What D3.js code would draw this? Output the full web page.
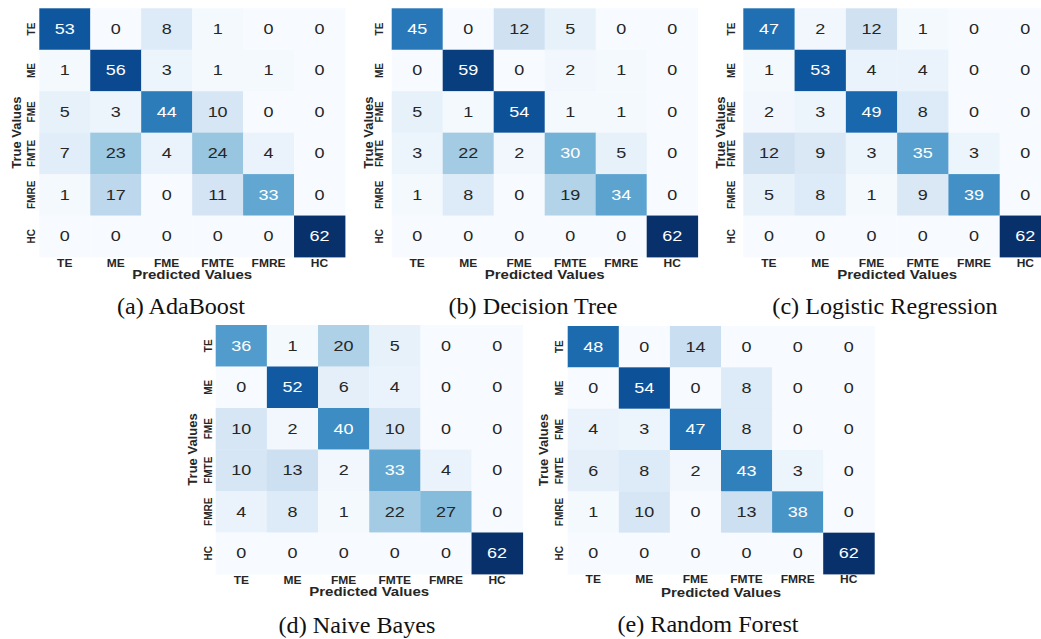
<!DOCTYPE html>
<html>
<head>
<meta charset="utf-8">
<script src="https://cdn.jsdelivr.net/npm/d3@7"></script>
<style>
  body { margin: 0; background: #fff; }
  svg { display: block; }
</style>
</head>
<body>
<svg id="chart" width="1041" height="639"></svg>
<script>
// class labels (rows = true, columns = predicted)
const categories = ["TE", "ME", "FME", "FMTE", "FMRE", "HC"];

// confusion matrices
const adaBoost = [
    [53, 0, 8, 1, 0, 0],
    [1, 56, 3, 1, 1, 0],
    [5, 3, 44, 10, 0, 0],
    [7, 23, 4, 24, 4, 0],
    [1, 17, 0, 11, 33, 0],
    [0, 0, 0, 0, 0, 62]
];
const decisionTree = [
    [45, 0, 12, 5, 0, 0],
    [0, 59, 0, 2, 1, 0],
    [5, 1, 54, 1, 1, 0],
    [3, 22, 2, 30, 5, 0],
    [1, 8, 0, 19, 34, 0],
    [0, 0, 0, 0, 0, 62]
];
const logisticRegression = [
    [47, 2, 12, 1, 0, 0],
    [1, 53, 4, 4, 0, 0],
    [2, 3, 49, 8, 0, 0],
    [12, 9, 3, 35, 3, 0],
    [5, 8, 1, 9, 39, 0],
    [0, 0, 0, 0, 0, 62]
];
const naiveBayes = [
    [36, 1, 20, 5, 0, 0],
    [0, 52, 6, 4, 0, 0],
    [10, 2, 40, 10, 0, 0],
    [10, 13, 2, 33, 4, 0],
    [4, 8, 1, 22, 27, 0],
    [0, 0, 0, 0, 0, 62]
];
const randomForest = [
    [48, 0, 14, 0, 0, 0],
    [0, 54, 0, 8, 0, 0],
    [4, 3, 47, 8, 0, 0],
    [6, 8, 2, 43, 3, 0],
    [1, 10, 0, 13, 38, 0],
    [0, 0, 0, 0, 0, 62]
];
const captions = ["(a) AdaBoost", "(b) Decision Tree", "(c) Logistic Regression", "(d) Naive Bayes", "(e) Random Forest"];
const matrices = [adaBoost, decisionTree, logisticRegression, naiveBayes, randomForest];

// where each panel sits on the page
const layout = [
    {x0: 39.3, y0: 8.3, w: 305.7, h: 248.7, yLabelX: 20.5, yTickX: 35, xTickY: 266.5, xLabelY: 279.3, capX: 181, capY: 314},
    {x0: 391.7, y0: 8.3, w: 306, h: 248.7, yLabelX: 373, yTickX: 383, xTickY: 266.5, xLabelY: 279.3, capX: 533, capY: 314},
    {x0: 743.3, y0: 8.3, w: 307.7, h: 248.7, yLabelX: 725, yTickX: 734.5, xTickY: 266.5, xLabelY: 279.3, capX: 885, capY: 314},
    {x0: 215.7, y0: 325, w: 307, h: 249, yLabelX: 196.5, yTickX: 212, xTickY: 583.5, xLabelY: 596, capX: 357, capY: 632.5},
    {x0: 567.7, y0: 326, w: 306.6, h: 248, yLabelX: 548, yTickX: 563, xTickY: 583.3, xLabelY: 596.5, capX: 708, capY: 632}
];

const stretch = 1.2; // the figure images are a bit wider than tall
const sans = "'Liberation Sans', Arial, Helvetica, sans-serif";

const svg = d3.select("#chart");
svg.append("rect").attr("width", 1041).attr("height", 639).attr("fill", "#fff");

// seaborn picks dark or white annotation text from the cell luminance
function luminance(c) {
    let rgb = d3.rgb(c);
    let lin = [rgb.r, rgb.g, rgb.b].map(function (v) {
        v = v / 255;
        return v <= 0.03928 ? v / 12.92 : Math.pow((v + 0.055) / 1.055, 2.4);
    });
    return 0.2126 * lin[0] + 0.7152 * lin[1] + 0.0722 * lin[2];
}

matrices.forEach(function (m, k) {
    let L = layout[k];
    let flat = [];
    m.forEach(function (row, i) {
        row.forEach(function (v, j) {
            flat.push({row: categories[i], col: categories[j], value: v});
        });
    });

    let x = d3.scaleBand().domain(categories).range([L.x0, L.x0 + L.w]);
    let y = d3.scaleBand().domain(categories).range([L.y0, L.y0 + L.h]);
    let color = d3.scaleSequential(d3.interpolateBlues)
        .domain([d3.min(flat, d => d.value), d3.max(flat, d => d.value)]);

    let g = svg.append("g").attr("class", "panel");

    g.selectAll("rect.cell")
        .data(flat)
        .enter().append("rect")
        .attr("class", "cell")
        .attr("x", d => x(d.col))
        .attr("y", d => y(d.row))
        .attr("width", x.bandwidth() + 0.4)
        .attr("height", y.bandwidth() + 0.4)
        .attr("fill", d => color(d.value));

    g.selectAll("text.val")
        .data(flat)
        .enter().append("text")
        .attr("class", "val")
        .attr("transform", d => `translate(${x(d.col) + x.bandwidth() / 2},${y(d.row) + y.bandwidth() / 2}) scale(${stretch},1)`)
        .attr("text-anchor", "middle")
        .attr("dominant-baseline", "central")
        .style("font-family", sans)
        .style("font-size", "15px")
        .attr("fill", d => luminance(color(d.value)) > 0.408 ? "#262626" : "#fff")
        .text(d => d.value);

    // x axis ticks
    let xAxis = g.append("g")
        .attr("transform", `translate(0,${L.xTickY})`)
        .call(d3.axisBottom(x).tickSize(0).tickPadding(0));
    xAxis.select(".domain").remove();
    xAxis.selectAll("text")
        .attr("y", 0).attr("dy", null)
        .attr("transform", `scale(${stretch},1)`)
        .attr("fill", "#262626")
        .style("font-family", sans)
        .style("font-size", "10px")
        .style("font-weight", "bold");

    // y axis ticks, rotated
    let yAxis = g.append("g")
        .attr("transform", `translate(${L.yTickX},0)`)
        .call(d3.axisLeft(y).tickSize(0).tickPadding(0));
    yAxis.select(".domain").remove();
    yAxis.selectAll("text")
        .attr("x", 0).attr("dy", null)
        .attr("text-anchor", "middle")
        .attr("dominant-baseline", "auto")
        .attr("transform", "rotate(-90)")
        .attr("fill", "#262626")
        .style("font-family", sans)
        .style("font-size", "10px")
        .style("font-weight", "bold");

    g.append("text")
        .attr("transform", `translate(${L.x0 + L.w / 2},${L.xLabelY}) scale(${stretch},1)`)
        .attr("text-anchor", "middle")
        .attr("fill", "#262626")
        .style("font-family", sans)
        .style("font-size", "12.5px")
        .style("font-weight", "bold")
        .text("Predicted Values");

    g.append("text")
        .attr("transform", `translate(${L.yLabelX},${L.y0 + L.h / 2}) rotate(-90)`)
        .attr("text-anchor", "middle")
        .attr("fill", "#262626")
        .style("font-family", sans)
        .style("font-size", "13px")
        .style("font-weight", "bold")
        .text("True Values");

    g.append("text")
        .attr("transform", `translate(${L.capX},${L.capY}) scale(1.05,1)`)
        .attr("text-anchor", "middle")
        .attr("fill", "#111")
        .style("font-family", "'Liberation Serif', 'Times New Roman', serif")
        .style("font-size", "23px")
        .text(captions[k]);
});
</script>
</body>
</html>
